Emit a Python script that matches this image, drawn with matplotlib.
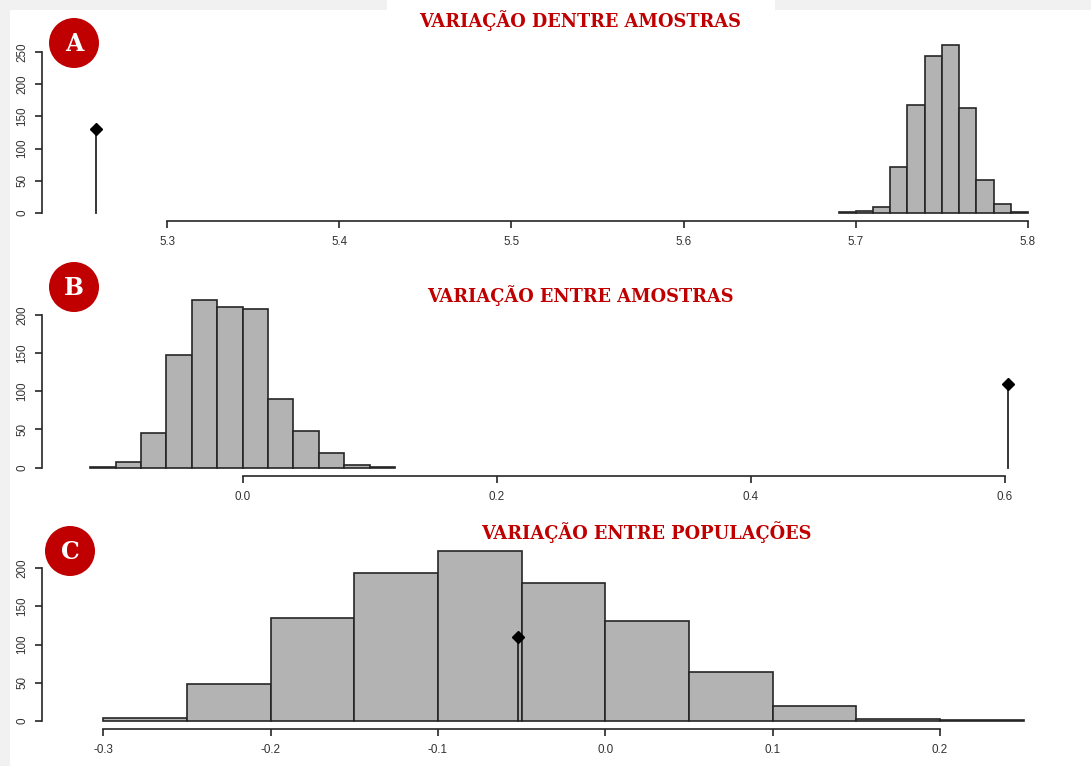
import numpy as np
import matplotlib
matplotlib.use("Agg")
import matplotlib.pyplot as plt
from matplotlib.patches import Rectangle, Ellipse

# ---- data ----
# Panel A: variation within samples
a_edges = [5.69, 5.70, 5.71, 5.72, 5.73, 5.74, 5.75, 5.76, 5.77, 5.78, 5.79, 5.80]
a_counts = [1, 3, 9, 72, 167, 244, 261, 163, 52, 14, 1]
a_obs = 5.2588
a_obs_h = 130
a_xticks = [5.3, 5.4, 5.5, 5.6, 5.7, 5.8]
a_yticks = [0, 50, 100, 150, 200, 250]

# Panel B: variation between samples
b_edges = [-0.12, -0.10, -0.08, -0.06, -0.04, -0.02, 0.0, 0.02, 0.04, 0.06, 0.08, 0.10, 0.12]
b_counts = [1, 7, 45, 148, 220, 211, 208, 90, 48, 19, 3, 1]
b_obs = 0.603
b_obs_h = 110
b_xticks = [0.0, 0.2, 0.4, 0.6]
b_yticks = [0, 50, 100, 150, 200]

# Panel C: variation between populations
c_edges = [-0.30, -0.25, -0.20, -0.15, -0.10, -0.05, 0.0, 0.05, 0.10, 0.15, 0.20, 0.25]
c_counts = [4, 49, 135, 194, 222, 180, 131, 64, 19, 3, 1]
c_obs = -0.052
c_obs_h = 110
c_xticks = [-0.3, -0.2, -0.1, 0.0, 0.1, 0.2]
c_yticks = [0, 50, 100, 150, 200]

titles = ["VARIAÇÃO DENTRE AMOSTRAS", "VARIAÇÃO ENTRE AMOSTRAS", "VARIAÇÃO ENTRE POPULAÇÕES"]
badges = ["A", "B", "C"]

W, H = 1091, 766
RED = "#c00000"
BAR = "#b3b3b3"
INK = "#262626"

plt.rcParams["font.family"] = ["Liberation Sans", "DejaVu Sans"]

fig = plt.figure(figsize=(W / 100, H / 100), dpi=100)
fig.patch.set_facecolor("white")

# page background: light grey frame with white sheet
bg = fig.add_axes([0, 0, 1, 1], zorder=-5)
bg.set_xlim(0, W)
bg.set_ylim(H, 0)
bg.axis("off")
bg.add_patch(Rectangle((0, 0), W, H, color="#f1f1f1", lw=0))
bg.add_patch(Rectangle((10, 10), W - 10, H - 10, color="white", lw=0))
bg.add_patch(Rectangle((387, 0), 388, 12, color="white", lw=0))


def px_axes(left, top, right, bottom):
    return fig.add_axes([left / W, 1 - bottom / H, (right - left) / W, (bottom - top) / H])


def draw_panel(ax, edges, counts, obs, obs_h, xticks, yticks, xlim, ylim, outward_px):
    edges = np.array(edges)
    ax.bar(edges[:-1], counts, width=np.diff(edges), align="edge",
           color=BAR, edgecolor=INK, linewidth=1.2, clip_on=False)
    ax.plot([obs, obs], [0, obs_h], color=INK, lw=1.3, clip_on=False)
    ax.plot([obs], [obs_h], marker="D", ms=6, color="black", clip_on=False)
    ax.set_xlim(*xlim)
    ax.set_ylim(*ylim)
    ax.patch.set_alpha(0)
    for s in ["top", "right"]:
        ax.spines[s].set_visible(False)
    ax.spines["left"].set_bounds(yticks[0], yticks[-1])
    ax.spines["bottom"].set_bounds(xticks[0], xticks[-1])
    ax.spines["bottom"].set_position(("outward", outward_px * 0.72))
    for s in ["left", "bottom"]:
        ax.spines[s].set_color(INK)
        ax.spines[s].set_linewidth(1.2)
    ax.set_xticks(xticks)
    ax.set_xticklabels([f"{t:.1f}" for t in xticks])
    ax.set_yticks(yticks)
    ax.tick_params(axis="both", length=5, width=1.2, color=INK,
                   labelsize=8.4, labelcolor="#333333")
    ax.tick_params(axis="x", pad=6)
    ax.tick_params(axis="y", pad=5, labelrotation=90)
    for lab in ax.get_yticklabels():
        lab.set_va("center")


# panel A
ax_a = px_axes(42, 45, 1050, 213)
draw_panel(ax_a, a_edges, a_counts, a_obs, a_obs_h, a_xticks, a_yticks,
           (5.2274, 5.8128), (0, 260.9), 8)

# panel B
ax_b = px_axes(42, 300, 1050, 467.5)
draw_panel(ax_b, b_edges, b_counts, b_obs, b_obs_h, b_xticks, b_yticks,
           (-0.1579, 0.6358), (0, 219.7), 8.5)

# panel C
ax_c = px_axes(42, 555, 1050, 721)
draw_panel(ax_c, c_edges, c_counts, c_obs, c_obs_h, c_xticks, c_yticks,
           (-0.3366, 0.2657), (0, 217.3), 8)

# overlay: titles and letter badges
ov = fig.add_axes([0, 0, 1, 1], zorder=10)
ov.set_xlim(0, W)
ov.set_ylim(H, 0)
ov.axis("off")
title_pos = [(580, 21), (580, 296), (646, 532)]
badge_pos = [(74, 43), (74, 287), (70, 551)]
for t, (x, y) in zip(titles, title_pos):
    ov.text(x, y, t, color=RED, fontsize=12.8, fontweight="bold",
            family="DejaVu Serif", ha="center", va="center")
for b, (x, y) in zip(badges, badge_pos):
    ov.add_patch(Ellipse((x, y), 50, 50, color=RED, lw=0))
    ov.text(x, y + 1, b, color="white", fontsize=17, fontweight="bold",
            family="DejaVu Serif", ha="center", va="center")

fig.savefig("out.png", dpi=100)
